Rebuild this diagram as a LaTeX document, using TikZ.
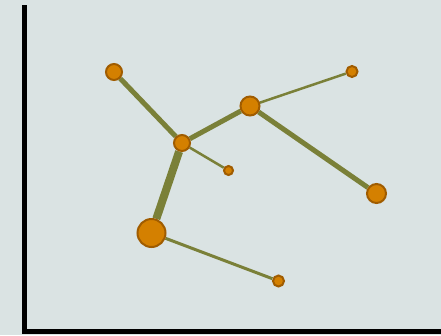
\documentclass[tikz,border=0pt]{standalone}
\usetikzlibrary{backgrounds}
\definecolor{bg}{RGB}{218,227,227}
\definecolor{edgec}{RGB}{122,128,56}
\definecolor{nodefill}{RGB}{212,128,0}
\definecolor{nodedraw}{RGB}{160,92,0}
\begin{document}
\begin{tikzpicture}[x=1pt,y=-1pt,
  vtx/.style={circle,fill=nodefill,draw=nodedraw,line width=2pt,inner sep=0pt,minimum size=#1},
  lnk/.style={draw=edgec,line width=#1},
  axis/.style={draw=black,line width=5pt}]
\useasboundingbox (0,0) rectangle (441,335);
\node[vtx=16pt] (A) at (114,72) {};
\node[vtx=16pt] (B) at (182,143) {};
\node[vtx=19pt] (C) at (250,106) {};
\node[vtx=11pt] (D) at (352,71.5) {};
\node[vtx=19pt] (E) at (376.5,193.5) {};
\node[vtx=9pt] (F) at (228.5,170.5) {};
\node[vtx=28pt] (G) at (151.5,233) {};
\node[vtx=11pt] (H) at (278.5,281) {};
\coordinate (axtop) at (24,5);
\coordinate (axorig) at (24,331);
\coordinate (axright) at (441,331);
\begin{scope}[on background layer]
\fill[bg] (0,0) rectangle (441,335);
\draw[axis] (axtop) -- (axorig) -- (axright);
\draw[lnk=5pt] (A) -- (B);
\draw[lnk=5pt] (B) -- (C);
\draw[lnk=8pt] (B) -- (G);
\draw[lnk=5pt] (C) -- (E);
\draw[lnk=2.5pt] (C) -- (D);
\draw[lnk=2.5pt] (B) -- (F);
\draw[lnk=3pt] (G) -- (H);
\end{scope}
\end{tikzpicture}
\end{document}
